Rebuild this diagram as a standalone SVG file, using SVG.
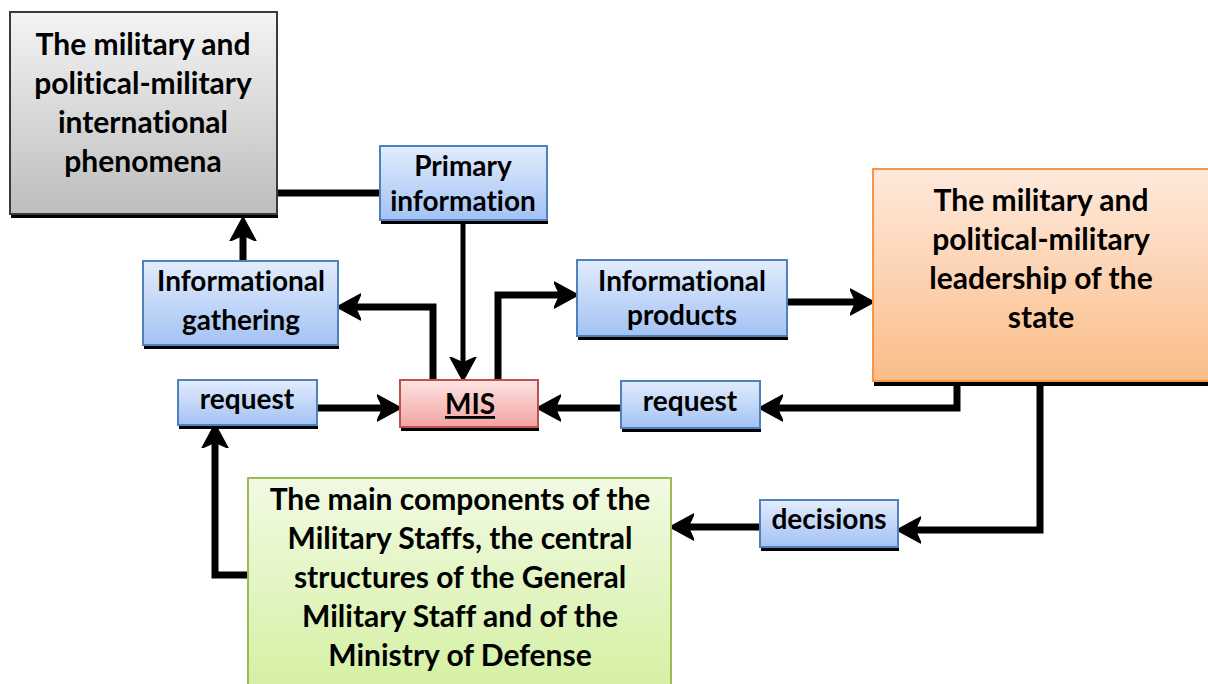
<svg xmlns="http://www.w3.org/2000/svg" width="1208" height="684" viewBox="0 0 1208 684">
<defs>
<linearGradient id="gGray" x1="0" y1="0" x2="0" y2="1"><stop offset="0" stop-color="#f4f4f4"/><stop offset="1" stop-color="#bdbdbd"/></linearGradient>
<linearGradient id="gBlue" x1="0" y1="0" x2="0" y2="1"><stop offset="0" stop-color="#e2ecfc"/><stop offset="1" stop-color="#a3c2f4"/></linearGradient>
<linearGradient id="gRed" x1="0" y1="0" x2="0" y2="1"><stop offset="0" stop-color="#fde4e4"/><stop offset="1" stop-color="#f3a3a1"/></linearGradient>
<linearGradient id="gOrange" x1="0" y1="0" x2="0" y2="1"><stop offset="0" stop-color="#fee9dc"/><stop offset="1" stop-color="#fbbd88"/></linearGradient>
<linearGradient id="gGreen" x1="0" y1="0" x2="0" y2="1"><stop offset="0" stop-color="#f2fae4"/><stop offset="1" stop-color="#d3f0a0"/></linearGradient>
<marker id="arr" markerUnits="userSpaceOnUse" markerWidth="26" markerHeight="28" refX="5" refY="14" orient="auto" viewBox="0 0 26 28">
<path d="M0,1 L24,14 L0,27 L6,14 z" fill="#000" stroke="#000" stroke-width="1.5" stroke-linejoin="round"/>
</marker>
</defs>
<style>
.t{font-family:Lato,"Liberation Sans",sans-serif;font-weight:bold;fill:#000;text-anchor:middle;font-variant-ligatures:none;font-feature-settings:"liga" 0,"clig" 0,"dlig" 0}
.big{font-size:30px}
.sm{font-size:28px}
.sh{fill:#000}
.blue{fill:url(#gBlue);stroke:#4f81bd;stroke-width:2}
.c{fill:none;stroke:#000;stroke-width:7;stroke-linejoin:miter}
</style>
<g id="connectors">
<path class="c" d="M277,193 H380"/>
<path class="c" d="M463,220 V362" style="stroke-width:5" marker-end="url(#arr)"/>
<path class="c" d="M433,380 V307 H356" marker-end="url(#arr)"/>
<path class="c" d="M498,380 V295 H559" marker-end="url(#arr)"/>
<path class="c" d="M243,261 V236" marker-end="url(#arr)"/>
<path class="c" d="M317,408 H382" marker-end="url(#arr)"/>
<path class="c" d="M787,302 H855" marker-end="url(#arr)"/>
<path class="c" d="M957,381 V408 H778" marker-end="url(#arr)"/>
<path class="c" d="M621,408 H556" marker-end="url(#arr)"/>
<path class="c" d="M1040,381 V530 H916" marker-end="url(#arr)"/>
<path class="c" d="M760,527 H689" marker-end="url(#arr)"/>
<path class="c" d="M248,575 H215 V443" marker-end="url(#arr)"/>
</g>
<g id="phenomena">
<rect class="sh" x="11" y="16" width="267" height="202"/>
<rect x="10" y="12" width="267" height="202" fill="url(#gGray)" stroke="#3a3a3a" stroke-width="2"/>
<text class="t big"><tspan x="143" y="55">The military and</tspan><tspan x="143" y="94">political-military</tspan><tspan x="143" y="133">international</tspan><tspan x="143" y="172">phenomena</tspan></text>
</g>
<g id="primary">
<rect class="sh" x="381" y="150" width="167" height="74"/>
<rect class="blue" x="380" y="146" width="167" height="74"/>
<text class="t sm"><tspan x="463" y="176">Primary</tspan><tspan x="463" y="211">information</tspan></text>
</g>
<g id="gathering">
<rect class="sh" x="144" y="265" width="195" height="84"/>
<rect class="blue" x="143" y="261" width="195" height="84"/>
<text class="t sm"><tspan x="241" y="291">Informational</tspan><tspan x="241" y="330">gathering</tspan></text>
</g>
<g id="products">
<rect class="sh" x="578" y="264" width="210" height="76"/>
<rect class="blue" x="577" y="260" width="210" height="76"/>
<text class="t sm"><tspan x="682" y="291">Informational</tspan><tspan x="682" y="325">products</tspan></text>
</g>
<g id="request1">
<rect class="sh" x="179" y="384" width="139" height="45"/>
<rect class="blue" x="178" y="380" width="139" height="45"/>
<text class="t sm" x="247" y="409">request</text>
</g>
<g id="mis">
<rect class="sh" x="401" y="384" width="138" height="47"/>
<rect x="400" y="380" width="138" height="47" fill="url(#gRed)" stroke="#c0504d" stroke-width="2"/>
<text class="t sm" x="470" y="414" text-decoration="underline">MIS</text>
</g>
<g id="request2">
<rect class="sh" x="622" y="385" width="139" height="47"/>
<rect class="blue" x="621" y="381" width="139" height="47"/>
<text class="t sm" x="690" y="411">request</text>
</g>
<g id="leadership">
<rect class="sh" x="874" y="173" width="336" height="213"/>
<rect x="873" y="169" width="337" height="212" fill="url(#gOrange)" stroke="#f79646" stroke-width="2"/>
<text class="t big"><tspan x="1041" y="211">The military and</tspan><tspan x="1041" y="250">political-military</tspan><tspan x="1041" y="289">leadership of the</tspan><tspan x="1041" y="328">state</tspan></text>
</g>
<g id="decisions">
<rect class="sh" x="761" y="504" width="138" height="47"/>
<rect class="blue" x="760" y="500" width="138" height="47"/>
<text class="t sm" x="829" y="529">decisions</text>
</g>
<g id="components">
<rect x="248" y="478" width="423" height="220" fill="url(#gGreen)" stroke="#9bbb59" stroke-width="2"/>
<text class="t big"><tspan x="460" y="510">The main components of the</tspan><tspan x="460" y="549">Military Staffs, the central</tspan><tspan x="460" y="588">structures of the General</tspan><tspan x="460" y="627">Military Staff and of the</tspan><tspan x="460" y="666">Ministry of Defense</tspan></text>
</g>
</svg>
